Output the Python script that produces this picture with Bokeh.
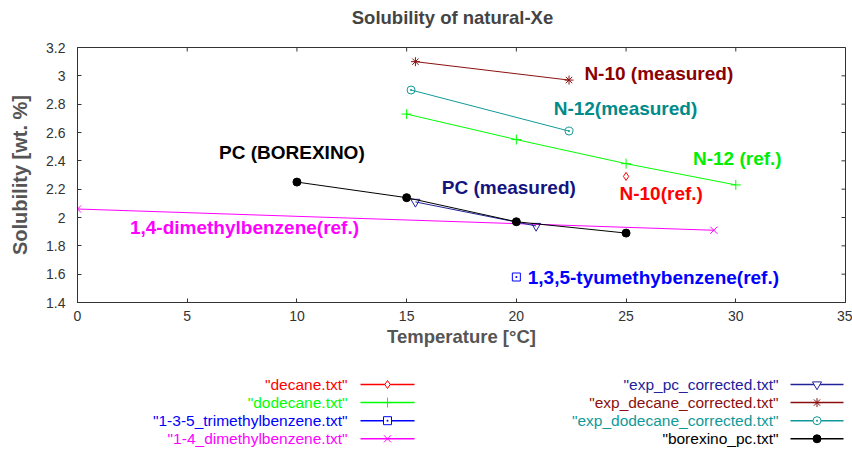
from bokeh.plotting import figure
from bokeh.layouts import column
from bokeh.models import FixedTicker, Range1d
from bokeh.core.properties import value
from bokeh.embed import file_html
from bokeh.resources import INLINE

# ---------------- data ----------------
decane_t = [25]
decane_s = [2.29]
dodecane_t = [15, 20, 25, 30]
dodecane_s = [2.73, 2.55, 2.38, 2.23]
tmb135_t = [20]
tmb135_s = [1.58]
dmb14_t = [0, 29]
dmb14_s = [2.06, 1.91]
exp_pc_t = [15.4, 20.9]
exp_pc_s = [2.11, 1.94]
exp_decane_t = [15.4, 22.4]
exp_decane_s = [3.10, 2.97]
exp_dodecane_t = [15.2, 22.4]
exp_dodecane_s = [2.90, 2.61]
borexino_t = [10, 15, 20, 25]
borexino_s = [2.25, 2.14, 1.97, 1.89]

x_ticks = [0, 5, 10, 15, 20, 25, 30, 35]
x_tick_labels = ["0", "5", "10", "15", "20", "25", "30", "35"]
y_ticks = [1.4, 1.6, 1.8, 2.0, 2.2, 2.4, 2.6, 2.8, 3.0, 3.2]
y_tick_labels = ["1.4", "1.6", "1.8", "2", "2.2", "2.4", "2.6", "2.8", "3", "3.2"]

annot_text = ["N-10 (measured)", "N-12(measured)", "N-12 (ref.)", "N-10(ref.)",
              "PC (measured)", "PC (BOREXINO)", "1,4-dimethylbenzene(ref.)",
              "1,3,5-tyumethybenzene(ref.)"]
annot_x = [23.1, 21.7, 28.05, 24.7, 16.6, 6.45, 2.39, 20.52]
annot_y = [3.02, 2.77, 2.42, 2.17, 2.21, 2.46, 1.93, 1.58]
annot_color = ["#8b0000", "#008b8b", "#00ee00", "#ff0000", "#14147f", "#000000",
               "#ff00ff", "#0000ff"]

TITLE = "Solubility of natural-Xe"
FONT = "Liberation Sans"
X0, X1 = 0, 35
Y0, Y1 = 1.4, 3.2

series = [
    dict(label='"decane.txt"', t=decane_t, s=decane_s, color="#ff0000", marker="diamond", size=8, fill=None),
    dict(label='"dodecane.txt"', t=dodecane_t, s=dodecane_s, color="#00ff00", marker="cross", size=10, fill=None),
    dict(label='"1-3-5_trimethylbenzene.txt"', t=tmb135_t, s=tmb135_s, color="#0000ff", marker="square_dot", size=8, fill=None),
    dict(label='"1-4_dimethylbenzene.txt"', t=dmb14_t, s=dmb14_s, color="#ff00ff", marker="x", size=10, fill=None),
    dict(label='"exp_pc_corrected.txt"', t=exp_pc_t, s=exp_pc_s, color="#22229a", marker="inverted_triangle", size=9, fill=None),
    dict(label='"exp_decane_corrected.txt"', t=exp_decane_t, s=exp_decane_s, color="#8b1010", marker="asterisk", size=9, fill=None),
    dict(label='"exp_dodecane_corrected.txt"', t=exp_dodecane_t, s=exp_dodecane_s, color="#119999", marker="circle_dot", size=8, fill=None),
    dict(label='"borexino_pc.txt"', t=borexino_t, s=borexino_s, color="#000000", marker="circle", size=8, fill="#000000"),
]

W = 852
BL, BR = 77, 7

def blank_panel(h):
    # the column layout aligns this panel's frame with the main plot's frame,
    # so its x range spans the same page pixels (BL .. W-BR)
    f = figure(width=W, height=h, x_range=Range1d(BL, W - BR), y_range=Range1d(h, 0),
               output_backend="svg", toolbar_location=None, min_border=0,
               min_border_left=BL, min_border_right=BR,
               background_fill_color="white", border_fill_color="white")
    f.axis.visible = False
    f.xgrid.visible = False
    f.ygrid.visible = False
    f.outline_line_color = None
    return f

# ---------------- title strip ----------------
TH = 32
tt = blank_panel(TH)
tt.text(x=[452], y=[17], text=[TITLE], text_font=value(FONT), text_font_size="18.5px",
        text_font_style="bold", text_color="#444444", text_align="center",
        text_baseline="middle")

# ---------------- main plot ----------------
H = 328
BT = 47 - TH
FRAME_W = W - BL - BR
FRAME_H = 255
p = figure(width=W, height=H, x_range=Range1d(X0, X1), y_range=Range1d(Y0, Y1),
           output_backend="svg", toolbar_location=None,
           min_border_left=BL, min_border_right=BR, min_border_top=BT,
           min_border_bottom=H - BT - FRAME_H,
           background_fill_color="white", border_fill_color="white")
p.xgrid.visible = False
p.ygrid.visible = False
p.outline_line_color = "#333333"

def style_axis(ax, ticks, labels):
    ax.ticker = FixedTicker(ticks=ticks)
    ax.major_label_overrides = {t: l for t, l in zip(ticks, labels)}
    ax.major_tick_in = 4
    ax.major_tick_out = 0
    ax.minor_tick_in = 0
    ax.minor_tick_out = 0
    ax.axis_line_color = "#333333"
    ax.major_tick_line_color = "#333333"
    ax.major_label_text_font = FONT
    ax.major_label_text_font_size = "14px"
    ax.major_label_text_color = "#333333"

xa = p.xaxis[0]
ya = p.yaxis[0]
style_axis(xa, x_ticks, x_tick_labels)
style_axis(ya, y_ticks, y_tick_labels)
xa.major_label_standoff = 8
ya.major_label_standoff = 12
for ax, txt, fs in ((xa, "Temperature [°C]", "18.5px"), (ya, "Solubility [wt. %]", "20px")):
    ax.axis_label = txt
    ax.axis_label_text_font = FONT
    ax.axis_label_text_font_size = fs
    ax.axis_label_text_font_style = "bold"
    ax.axis_label_text_color = "#555555"
xa.axis_label_standoff = 2
ya.axis_label_standoff = 12

# mirrored inward ticks on top and right edges (gnuplot style)
tick_px = 4
dy = tick_px * (Y1 - Y0) / FRAME_H
dx = tick_px * (X1 - X0) / FRAME_W
p.segment(x0=x_ticks, y0=[Y1] * len(x_ticks), x1=x_ticks, y1=[Y1 - dy] * len(x_ticks),
          line_color="#333333", line_width=1)
p.segment(x0=[X1] * len(y_ticks), y0=y_ticks, x1=[X1 - dx] * len(y_ticks), y1=y_ticks,
          line_color="#333333", line_width=1)

for sr in series:
    p.line(sr["t"], sr["s"], line_color=sr["color"], line_width=1)
    p.scatter(sr["t"], sr["s"], marker=sr["marker"], size=sr["size"],
              line_color=sr["color"], fill_color=sr["fill"], line_width=1)

p.text(x=annot_x, y=annot_y, text=annot_text, text_color=annot_color,
       text_font=value(FONT), text_font_size="19px", text_font_style="bold",
       text_baseline="middle", text_align="left")

# ---------------- legend (gnuplot style: label, then sample) ----------------
LH = 90
lg = blank_panel(LH)
col_text_right = [347, 778]
col_line = [(360, 414), (790, 843)]
row_y0, row_dy = 24, 18.1
for i, sr in enumerate(series):
    c, r = divmod(i, 4)
    yy = row_y0 + r * row_dy
    x0, x1 = col_line[c]
    lg.text(x=[col_text_right[c]], y=[yy], text=[sr["label"]], text_color=sr["color"],
            text_font=value(FONT), text_font_size="15.5px", text_align="right",
            text_baseline="middle")
    lg.line([x0, x1], [yy, yy], line_color=sr["color"], line_width=1.5)
    lg.scatter([(x0 + x1) / 2], [yy], marker=sr["marker"], size=sr["size"],
               line_color=sr["color"], fill_color=sr["fill"] if sr["fill"] else "white", line_width=1)

layout = column(tt, p, lg, spacing=0)
open("out.html", "w").write(file_html(layout, INLINE))
